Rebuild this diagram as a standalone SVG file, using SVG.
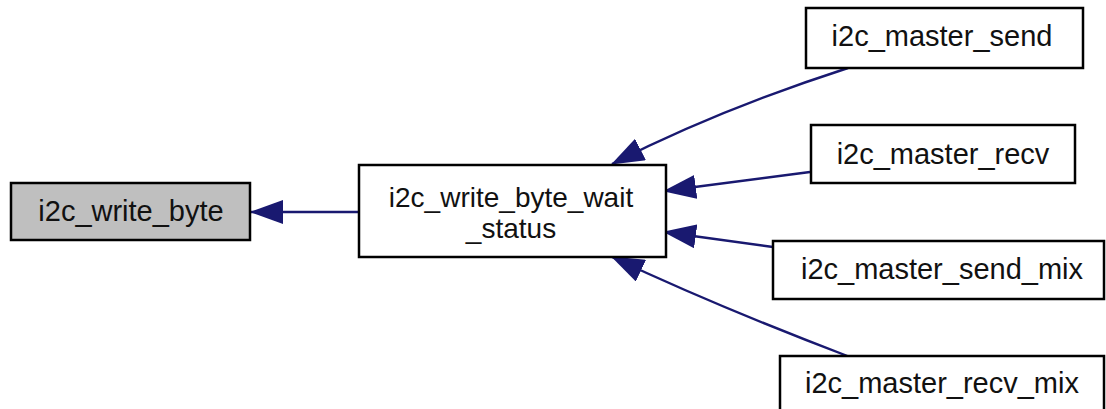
<svg xmlns="http://www.w3.org/2000/svg" width="1106" height="409" viewBox="0 0 1106 409">
<style>
.node rect{fill:#ffffff;stroke:#000000;stroke-width:2.5}
.node.hl rect{fill:#bfbfbf}
.node text{font-family:"Liberation Sans",Arial,sans-serif;font-size:29px;fill:#111111;text-anchor:middle}
.node text.ml{font-size:28px}
.edge{fill:none;stroke:#191970;stroke-width:2.4}
</style>
<defs>
<marker id="arr" markerUnits="userSpaceOnUse" viewBox="0 0 33 24" markerWidth="33" markerHeight="24" refX="32" refY="12" orient="auto">
<path d="M0,0 L33,12 L0,24 z" fill="#191970"/>
</marker>
</defs>
<rect width="1106" height="409" fill="#ffffff"/>
<g id="edges">
<path class="edge" d="M358,212 L251,212" marker-end="url(#arr)"/>
<path class="edge" d="M848,68 Q718,110 612,164" marker-end="url(#arr)"/>
<path class="edge" d="M810,172 L664,191" marker-end="url(#arr)"/>
<path class="edge" d="M773,247 L664,232" marker-end="url(#arr)"/>
<path class="edge" d="M850,357 Q716,306 612,257" marker-end="url(#arr)"/>
</g>
<g id="n_i2c_write_byte" class="node hl">
<rect x="11" y="183" width="239" height="57"/>
<text x="131" y="221">i2c_write_byte</text>
</g>
<g id="n_i2c_write_byte_wait_status" class="node">
<rect x="359" y="165" width="307" height="92"/>
<text class="ml" x="511" y="207">i2c_write_byte_wait</text>
<text class="ml" x="511" y="238">_status</text>
</g>
<g id="n_i2c_master_send" class="node">
<rect x="806" y="8" width="277" height="60"/>
<text x="942" y="46">i2c_master_send</text>
</g>
<g id="n_i2c_master_recv" class="node">
<rect x="811" y="125" width="264" height="58"/>
<text x="943" y="164">i2c_master_recv</text>
</g>
<g id="n_i2c_master_send_mix" class="node">
<rect x="773" y="241" width="331" height="58"/>
<text x="942" y="279">i2c_master_send_mix</text>
</g>
<g id="n_i2c_master_recv_mix" class="node">
<rect x="780" y="356" width="324" height="58"/>
<text x="942" y="393">i2c_master_recv_mix</text>
</g>
</svg>
